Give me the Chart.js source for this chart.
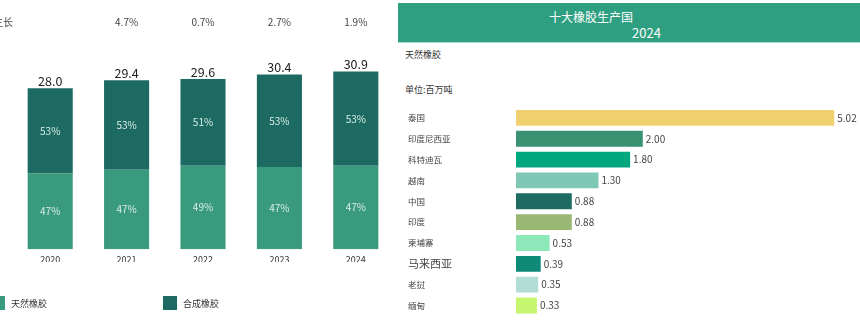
<!DOCTYPE html>
<html>
<head>
<meta charset="utf-8">
<script src="https://cdn.jsdelivr.net/npm/chart.js@4.4.1/dist/chart.umd.min.js"></script>
<style>
  body { margin: 0; width: 860px; height: 324px; overflow: hidden; background: #fff; position: relative; font-family: "Noto Sans CJK SC", sans-serif; }
  #left { position: absolute; left: 0; top: 0; }
  #right { position: absolute; left: 398px; top: 0; }
  .head { position: absolute; left: 398px; top: 3px; width: 462px; height: 39px; background: #2f9f81; border-bottom: 1px solid #a8d9c8; color: #fff; }
  .head .t1 { position: absolute; left: 151px; top: 7px; white-space: nowrap; font-size: 12px; line-height: 14px; }
  .head .t2 { position: absolute; left: 234px; top: 22px; white-space: nowrap; font-size: 13px; line-height: 15px; }
  .note { position: absolute; left: 405px; font-size: 9px; color: #333; white-space: nowrap; }
</style>
</head>
<body>
<canvas id="left" width="395" height="324"></canvas>
<div class="head"><span class="t1">十大橡胶生产国</span><span class="t2">2024</span></div>
<div class="note" style="top:48px">天然橡胶</div>
<div class="note" style="top:83px">单位:百万吨</div>
<canvas id="right" width="462" height="324"></canvas>
<script>
// left: world rubber output, million tonnes
const years = ['2020', '2021', '2022', '2023', '2024']
const natural = [13.2, 13.8, 14.5, 14.3, 14.5]
const synthetic = [14.8, 15.6, 15.1, 16.1, 16.4]
const growth = ['', '4.7%', '0.7%', '2.7%', '1.9%']

// right: top ten natural rubber producers 2024
const countries = ['泰国', '印度尼西亚', '科特迪瓦', '越南', '中国', '印度', '柬埔寨', '马来西亚', '老挝', '缅甸']
const output2024 = [5.02, 2.00, 1.80, 1.30, 0.88, 0.88, 0.53, 0.39, 0.35, 0.33]

const countryColors = ['#f0d06e', '#3a9272', '#00a87e', '#80c8b6', '#1d6b63', '#9ab874', '#8ce8b8', '#0f8a78', '#b2dcd6', '#c6f570']
const FONT = '"Noto Sans CJK SC", sans-serif'

Chart.defaults.font.family = FONT
Chart.defaults.animation = false

const stackLabels = {
  id: 'stackLabels',
  afterDatasetsDraw (chart) {
    const ctx = chart.ctx
    const low = chart.getDatasetMeta(0).data
    const high = chart.getDatasetMeta(1).data
    ctx.save()
    ctx.textAlign = 'center'
    ctx.textBaseline = 'middle'
    ctx.fillStyle = '#d9eee6'
    ctx.font = '10px ' + FONT
    ;[low, high].forEach((bars, d) => {
      const vals = chart.data.datasets[d].data
      bars.forEach((bar, i) => {
        const pct = Math.round(vals[i] / (natural[i] + synthetic[i]) * 100)
        ctx.fillText(pct + '%', bar.x, (bar.y + bar.base) / 2)
      })
    })
    ctx.fillStyle = '#222'
    ctx.font = '12.5px ' + FONT
    ctx.textBaseline = 'bottom'
    high.forEach((bar, i) => {
      ctx.fillText((natural[i] + synthetic[i]).toFixed(1), bar.x, bar.y - 1)
    })
    ctx.fillStyle = '#444'
    ctx.font = '10px ' + FONT
    ctx.textBaseline = 'middle'
    high.forEach((bar, i) => {
      if (growth[i]) ctx.fillText(growth[i], bar.x, 22)
    })
    ctx.textAlign = 'left'
    ctx.fillText('生长', -7, 22)

    // legend
    const spots = [-9, 163]
    ctx.font = '9px ' + FONT
    chart.data.datasets.forEach((ds, d) => {
      ctx.fillStyle = ds.backgroundColor
      ctx.fillRect(spots[d], 296, 14, 14)
      ctx.fillStyle = '#333'
      ctx.fillText(ds.label, spots[d] + 20, 304)
    })
    ctx.restore()
  }
}

new Chart(document.getElementById('left'), {
  type: 'bar',
  data: {
    labels: years,
    datasets: [
      { label: '天然橡胶', data: natural, backgroundColor: '#3a9a7d' },
      { label: '合成橡胶', data: synthetic, backgroundColor: '#1d6a62' }
    ]
  },
  options: {
    responsive: false,
    layout: { padding: { left: 12, right: 1, top: 48, bottom: 62 } },
    datasets: { bar: { barPercentage: 0.59, categoryPercentage: 1 } },
    plugins: { legend: { display: false }, tooltip: { enabled: false } },
    scales: {
      x: {
        stacked: true,
        grid: { display: false },
        border: { display: false },
        ticks: { font: { size: 9 }, color: '#333', padding: -3 }
      },
      y: { stacked: true, display: false, min: 0, max: 35 }
    }
  },
  plugins: [stackLabels]
})

const valueLabels = {
  id: 'valueLabels',
  afterDatasetsDraw (chart) {
    const ctx = chart.ctx
    ctx.save()
    ctx.font = '10px ' + FONT
    ctx.fillStyle = '#444'
    ctx.textBaseline = 'middle'
    chart.getDatasetMeta(0).data.forEach((bar, i) => {
      ctx.fillText(output2024[i].toFixed(2), bar.x + 3, bar.y)
    })
    ctx.restore()
  }
}

new Chart(document.getElementById('right'), {
  type: 'bar',
  data: {
    labels: countries,
    datasets: [{ data: output2024, backgroundColor: countryColors }]
  },
  options: {
    responsive: false,
    indexAxis: 'y',
    layout: { padding: { left: 10, right: 8, top: 107.5, bottom: 6.5 } },
    datasets: { bar: { barPercentage: 0.76, categoryPercentage: 1 } },
    plugins: { legend: { display: false }, tooltip: { enabled: false } },
    scales: {
      x: { display: false, min: 0, max: 5.3 },
      y: {
        grid: { display: false },
        border: { display: false },
        afterFit: (scale) => { scale.width = 108 },
        ticks: {
          crossAlign: 'far',
          color: '#444',
          font: (c) => ({ size: countries[c.index] === '马来西亚' ? 11 : 8.5 })
        }
      }
    }
  },
  plugins: [valueLabels]
})
</script>
</body>
</html>
